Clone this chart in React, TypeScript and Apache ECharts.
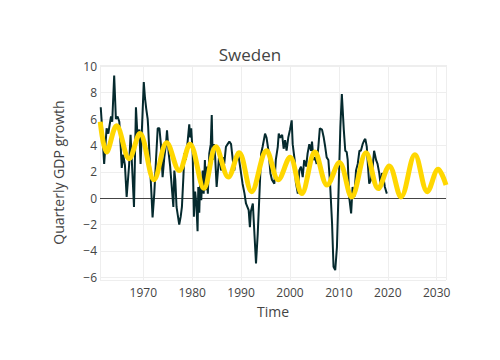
import React, { useEffect, useRef } from "react";
import * as echarts from "echarts";

const chartTitle = "Sweden";
const xTitle = "Time";
const yTitle = "Quarterly GDP growth";

// Observed quarterly GDP growth (dark line)
const gdpYears = [
  1961.3, 1961.5, 1962.0, 1962.5, 1962.85, 1963.05, 1963.4, 1963.65, 1964.05, 1964.4,
  1964.75, 1965.1, 1965.4, 1965.6, 1965.9, 1966.25, 1966.6, 1967.1, 1967.4, 1967.7,
  1968.1, 1968.5, 1968.8, 1969.2, 1969.45, 1969.7, 1970.1, 1970.35, 1970.6, 1970.9,
  1971.0, 1971.25, 1971.6, 1971.9, 1972.25, 1972.6, 1972.95, 1973.3, 1973.6, 1973.95,
  1974.3, 1974.65, 1974.85, 1975.2, 1975.5, 1975.9, 1976.15, 1976.35, 1976.55, 1976.8,
  1977.1, 1977.35, 1977.65, 1977.9, 1978.2, 1978.4, 1978.7, 1979.1, 1979.4, 1979.6,
  1979.8, 1980.1, 1980.35, 1980.6, 1980.85, 1981.1, 1981.25, 1981.45, 1981.65, 1981.85,
  1982.15, 1982.35, 1982.6, 1982.8, 1983.0, 1983.2, 1983.5, 1983.8, 1984.0, 1984.2,
  1984.45, 1984.7, 1985.0, 1985.55, 1985.9, 1986.25, 1986.55, 1986.9, 1987.25, 1987.6,
  1987.95, 1988.3, 1988.6, 1988.95, 1989.3, 1989.6, 1990.3, 1990.7, 1991.0, 1991.55,
  1991.8, 1992.0, 1992.4, 1993.05, 1993.4, 1993.7, 1994.1, 1994.4, 1994.9, 1995.2,
  1995.6, 1996.0, 1996.3, 1996.8, 1997.1, 1997.5, 1997.7, 1998.0, 1998.4, 1998.7,
  1999.0, 1999.3, 1999.65, 2000.0, 2000.35, 2000.55, 2000.95, 2001.2, 2001.6, 2001.9,
  2002.25, 2002.6, 2002.9, 2003.3, 2003.6, 2003.95, 2004.3, 2004.5, 2004.8, 2005.1,
  2005.45, 2005.8, 2006.1, 2006.55, 2006.9, 2007.2, 2007.5, 2007.85, 2008.2, 2008.6,
  2008.9, 2009.25, 2009.6, 2009.95, 2010.3, 2010.6, 2011.0, 2011.3, 2011.6, 2011.8,
  2012.1, 2012.5, 2012.8, 2013.15, 2013.5, 2013.85, 2014.2, 2014.5, 2014.85, 2015.2,
  2015.4, 2015.7, 2015.95, 2016.2, 2016.55, 2016.9, 2017.2, 2017.6, 2017.9, 2018.25,
  2018.6, 2018.8, 2019.1, 2019.4, 2019.8,
];
const gdpValues = [
  6.9, 5.8, 2.6, 5.3, 4.9, 5.4, 6.2, 5.8, 9.3, 6.0,
  6.2, 5.8, 3.8, 2.3, 3.3, 2.5, 0.1, 2.5, 4.8, 2.5,
  -0.66, 6.9, 4.8, 5.2, 2.6, 5.0, 8.8, 7.6, 6.8, 6.0,
  5.4, 3.4, 0.85, -1.45, 0.35, 2.9, 5.3, 5.3, 4.1, 1.6,
  3.1, 4.1, 5.15, 3.4, 2.4, 0.5, -0.66, 2.1, 1.4, -0.66,
  -1.4, -2.0, -1.4, -0.66, 1.6, 3.4, 2.9, 4.4, 5.6, 4.6,
  5.3, 3.4, -1.4, 0.5, -0.4, -2.5, 0.85, -1.1, 1.6, -0.15,
  2.1, 0.35, 2.9, 0.6, 2.4, 0.35, 3.4, 4.1, 6.3, 2.9,
  4.1, 3.1, 0.85, 3.4, 2.1, 3.1, 2.6, 3.9, 4.1, 4.3,
  4.1, 2.9, 2.1, 3.1, 3.5, 2.9, 1.1, 0.35, -0.4, -0.9,
  -2.2, -1.0, -0.4, -4.95, -2.7, -0.15, 3.4, 3.9, 4.9, 4.6,
  3.6, 1.9, 1.4, 1.1, 2.9, 3.9, 4.9, 4.6, 4.8, 3.75,
  4.4, 3.6, 4.6, 5.2, 5.9, 4.1, 2.9, 1.2, 0.35, 2.1,
  2.4, 1.6, 2.9, 2.4, 3.4, 4.1, 3.6, 4.3, 2.9, 3.1,
  2.6, 3.9, 5.3, 5.2, 4.6, 3.9, 3.1, 2.9, 1.1, -1.9,
  -5.2, -5.45, -3.7, 0.85, 5.4, 7.9, 5.2, 3.6, 3.5, 2.9,
  0.1, -1.15, 0.85, 0.1, 2.1, 2.6, 3.6, 3.6, 4.1, 4.4,
  4.5, 3.9, 2.4, 1.1, 1.4, 2.4, 3.6, 2.9, 2.6, 1.9,
  0.85, 1.9, 1.6, 0.85, 0.35,
];

// Fitted / forecast cycle (yellow line): turning points
const fitYears = [
  1961.2, 1962.5, 1964.55, 1967.1, 1969.3, 1972.2, 1974.8, 1977.35, 1979.55, 1982.4,
  1984.85, 1987.4, 1989.6, 1992.15, 1995.2, 1997.6, 2000.0, 2002.4, 2005.1, 2007.6,
  2010.1, 2012.6, 2015.55, 2018.05, 2020.3, 2022.7, 2025.55, 2028.1, 2030.3, 2031.9,
];
const fitValues = [
  5.8, 3.5, 5.5, 3.0, 4.9, 1.4, 4.2, 2.1, 4.1, 0.75,
  3.9, 1.6, 3.45, 0.5, 3.6, 1.4, 3.1, 0.35, 3.5, 1.0,
  2.7, 0.1, 3.45, 0.73, 2.45, 0.1, 3.3, 0.5, 2.2, 1.0,
];

const xMin = 1961.15;
const xMax = 2031.9;
const yMin = -6.2;
const yMax = 10.1;

const FONT = "'Open Sans', verdana, arial, sans-serif";

const fmtNum = (v: number) => (v < 0 ? "\u2212" + Math.abs(v) : String(v));

export default function App() {
  const ref = useRef<HTMLDivElement>(null);

  useEffect(() => {
    if (!ref.current) return;
    const chart = echarts.init(ref.current, undefined, { renderer: "svg" });
    const gdpData = gdpYears.map((y, i) => [y, gdpValues[i]]);
    const fitData = fitYears.map((y, i) => [y, fitValues[i]]);

    chart.setOption({
      animation: false,
      backgroundColor: "#ffffff",
      title: {
        text: chartTitle,
        left: "center",
        top: 41,
        textStyle: { fontFamily: FONT, fontSize: 17, fontWeight: "normal", color: "#444" },
      },
      grid: { left: 100, right: 54, top: 65, bottom: 80, containLabel: false },
      xAxis: {
        type: "value",
        min: xMin,
        max: xMax,
        splitNumber: 7,
        name: xTitle,
        nameLocation: "middle",
        nameGap: 24,
        nameTextStyle: { fontFamily: FONT, fontSize: 14, color: "#444" },
        axisLine: { show: false },
        axisTick: { show: false },
        axisLabel: {
          fontFamily: FONT,
          fontSize: 12,
          color: "#444",
          margin: 6,
          formatter: (v: number) => (Math.abs(v - Math.round(v / 10) * 10) < 1e-6 ? String(Math.round(v)) : ""),
        },
        splitLine: { show: true, lineStyle: { color: "#eeeeee", width: 1 } },
      },
      yAxis: {
        type: "value",
        min: yMin,
        max: yMax,
        splitNumber: 8,
        name: yTitle,
        nameLocation: "middle",
        nameGap: 35,
        nameTextStyle: { fontFamily: FONT, fontSize: 14, color: "#444" },
        axisLine: { show: false },
        axisTick: { show: false },
        axisLabel: {
          fontFamily: FONT,
          fontSize: 12,
          color: "#444",
          margin: 3,
          formatter: (v: number) => (Math.abs(v - Math.round(v / 2) * 2) < 1e-6 ? fmtNum(Math.round(v)) : ""),
        },
        splitLine: { show: true, lineStyle: { color: "#eeeeee", width: 1 } },
      },
      series: [
        {
          type: "line",
          data: gdpData,
          showSymbol: false,
          symbol: "none",
          lineStyle: { color: "#052a2e", width: 2 },
          z: 2,
          markLine: {
            silent: true,
            symbol: "none",
            z: 1,
            label: { show: false },
            lineStyle: { color: "#444", width: 1, type: "solid" },
            data: [{ yAxis: 0 }],
          },
        },
        {
          type: "line",
          data: fitData,
          smooth: 0.36,
          showSymbol: false,
          symbol: "none",
          lineStyle: { color: "#FFD700", width: 5 },
          z: 3,
        },
      ],
    });
    return () => chart.dispose();
  }, []);

  return (
    <div
      ref={ref}
      style={{ position: "fixed", left: 0, top: 0, width: 500, height: 360, background: "#fff" }}
    />
  );
}
